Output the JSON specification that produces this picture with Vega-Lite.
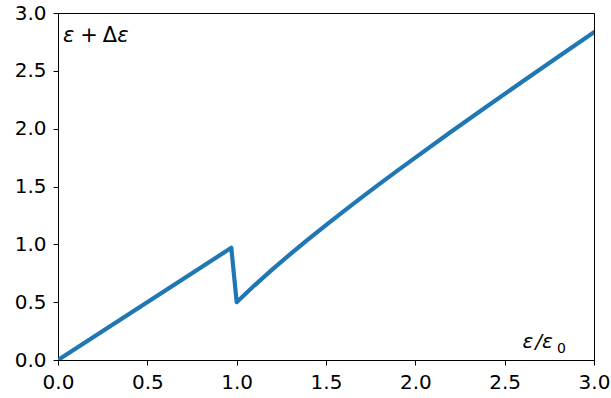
{
  "$schema": "https://vega.github.io/schema/vega-lite/v6.json",
  "width": 536,
  "height": 347,
  "autosize": {"type": "none"},
  "padding": {"left": 58, "top": 13, "right": 17, "bottom": 38},
  "background": "white",
  "config": {
    "view": {"stroke": "#000000", "strokeWidth": 1},
    "font": "DejaVu Sans"
  },
  "layer": [
    {
      "data": {
        "values": [
          {"x": 0.0, "y": 0.0},
          {"x": 0.97, "y": 0.97},
          {"x": 1.0, "y": 0.5},
          {"x": 1.1, "y": 0.6455},
          {"x": 1.2, "y": 0.7833},
          {"x": 1.3, "y": 0.9154},
          {"x": 1.4, "y": 1.0429},
          {"x": 1.5, "y": 1.1667},
          {"x": 1.6, "y": 1.2875},
          {"x": 1.7, "y": 1.4059},
          {"x": 1.8, "y": 1.5222},
          {"x": 1.9, "y": 1.6368},
          {"x": 2.0, "y": 1.75},
          {"x": 2.2, "y": 1.9727},
          {"x": 2.4, "y": 2.1917},
          {"x": 2.6, "y": 2.4077},
          {"x": 2.8, "y": 2.6214},
          {"x": 3.0, "y": 2.8333}
        ]
      },
      "mark": {"type": "line", "color": "#1f77b4", "strokeWidth": 4.2, "strokeCap": "round", "strokeJoin": "round", "clip": true},
      "encoding": {
        "x": {
          "field": "x", "type": "quantitative",
          "scale": {"domain": [0, 3], "nice": false, "zero": false},
          "axis": {"values": [0, 0.5, 1, 1.5, 2, 2.5, 3], "format": ".1f", "title": null, "grid": false, "domain": true, "domainColor": "#000000", "tickColor": "#000000", "tickSize": 5, "labelFontSize": 20, "labelColor": "#000000", "labelPadding": 7, "labelFont": "DejaVu Sans", "labelFlush": false}
        },
        "y": {
          "field": "y", "type": "quantitative",
          "scale": {"domain": [0, 3], "nice": false, "zero": false},
          "axis": {"values": [0, 0.5, 1, 1.5, 2, 2.5, 3], "format": ".1f", "title": null, "grid": false, "domain": true, "domainColor": "#000000", "tickColor": "#000000", "tickSize": 5, "labelFontSize": 20, "labelColor": "#000000", "labelPadding": 7, "labelFont": "DejaVu Sans", "labelFlush": false}
        },
        "order": {"field": "x", "type": "quantitative"}
      }
    },
    {
      "data": {"values": [
        {"x": 0.028, "y": 2.75, "t": "ε"},
        {"x": 0.332, "y": 2.75, "t": "ε"}
      ]},
      "mark": {"type": "text", "align": "left", "baseline": "alphabetic", "fontSize": 21, "fontStyle": "italic", "font": "DejaVu Sans", "color": "#000000"},
      "encoding": {
        "x": {"field": "x", "type": "quantitative"},
        "y": {"field": "y", "type": "quantitative"},
        "text": {"field": "t"}
      }
    },
    {
      "data": {"values": [
        {"x": 0.124, "y": 2.75, "t": "+"},
        {"x": 0.25, "y": 2.75, "t": "Δ"}
      ]},
      "mark": {"type": "text", "align": "left", "baseline": "alphabetic", "fontSize": 21, "font": "DejaVu Sans", "color": "#000000"},
      "encoding": {
        "x": {"field": "x", "type": "quantitative"},
        "y": {"field": "y", "type": "quantitative"},
        "text": {"field": "t"}
      }
    },
    {
      "data": {"values": [{"x": 2.6, "y": 0.104, "t": "ε\u200a/ε"}]},
      "mark": {"type": "text", "align": "left", "baseline": "alphabetic", "fontSize": 20, "fontStyle": "italic", "font": "DejaVu Sans", "color": "#000000"},
      "encoding": {
        "x": {"field": "x", "type": "quantitative"},
        "y": {"field": "y", "type": "quantitative"},
        "text": {"field": "t"}
      }
    },
    {
      "data": {"values": [{"x": 2.793, "y": 0.06, "t": "0"}]},
      "mark": {"type": "text", "align": "left", "baseline": "alphabetic", "fontSize": 14, "font": "DejaVu Sans", "color": "#000000"},
      "encoding": {
        "x": {"field": "x", "type": "quantitative"},
        "y": {"field": "y", "type": "quantitative"},
        "text": {"field": "t"}
      }
    }
  ]
}
